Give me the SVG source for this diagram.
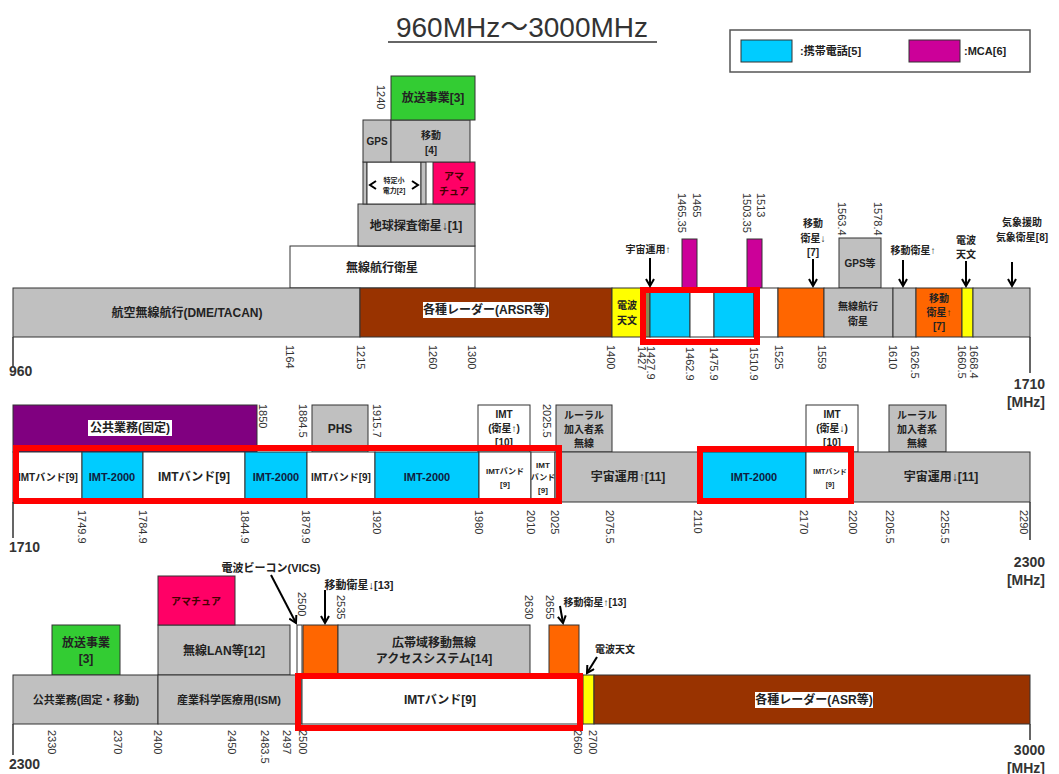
<svg xmlns="http://www.w3.org/2000/svg" width="1059" height="774" viewBox="0 0 1059 774">
<defs>
<style>
.s{stroke:#333;stroke-width:1}
.g{fill:#C0C0C0}.br{fill:#993300}.y{fill:#FFFF00}.c{fill:#00CCFF}.m{fill:#CC0099}.o{fill:#FF6600}.gr{fill:#33CC33}.p{fill:#FF0066}.pu{fill:#800080}.w{fill:#FFFFFF}.ol{fill:#8A8A50}
.rb{fill:none;stroke:#FF0000;stroke-width:6}
text{font-family:"Liberation Sans","Noto Sans CJK JP",sans-serif;fill:#222}
.t{font-size:12px;font-weight:bold;text-anchor:middle;dominant-baseline:central}
.t10{font-size:10px}
.t8{font-size:8px}
.t7{font-size:7px}
.n{font-size:11px;dominant-baseline:central;fill:#333}
.e{font-size:14px;font-weight:bold;fill:#333}
.tk{stroke:#333;stroke-width:1.5;fill:none}
.ar{stroke:#000;stroke-width:2;fill:none;marker-end:url(#ah)}
.dk{fill:#102040}
</style>
<marker id="ah" viewBox="0 0 10 10" refX="8" refY="5" markerWidth="5" markerHeight="5" orient="auto"><path d="M1,1 L8,5 L1,9" fill="none" stroke="#000" stroke-width="2"/></marker>
</defs>
<rect width="1059" height="774" fill="#fff"/>

<g id="title">
<text x="522" y="37" text-anchor="middle" style="font-size:28px;fill:#333">960MHz～3000MHz</text>
<line x1="388" y1="42" x2="657" y2="42" stroke="#333" stroke-width="1.5"/>
</g>

<g id="legend">
<rect x="730" y="30" width="300" height="42" fill="#fff" stroke="#555" stroke-width="1.5"/>
<rect x="741" y="40" width="51" height="22" class="c s"/>
<text x="800" y="51" class="t" style="text-anchor:start;font-size:11px">:携帯電話[5]</text>
<rect x="909" y="40" width="51" height="22" class="m s"/>
<text x="964" y="51" class="t" style="text-anchor:start;font-size:11px">:MCA[6]</text>
</g>

<!-- Row 1 -->
<g id="r1-upper">
<g id="n-rnss-sat"><rect x="290" y="246" width="185" height="42" class="w s"/><text x="382" y="268" class="t">無線航行衛星</text></g>
<g id="n-eess"><rect x="358" y="204" width="117" height="42" class="g s"/><text x="416" y="226" class="t">地球探査衛星↓[1]</text></g>
<g id="n-srd"><rect x="363" y="162" width="4" height="42" class="g s"/><rect x="367" y="162" width="54" height="42" class="w s"/><rect x="421" y="162" width="5" height="42" class="g s"/>
<text x="394" y="180" class="t t7">特定小</text><text x="394" y="190" class="t t7">電力[2]</text>
<path d="M376,181 L370,185 L376,189 M412,181 L418,185 L412,189" fill="none" stroke="#000" stroke-width="2"/></g>
<g id="n-ham1"><rect x="433" y="162" width="42" height="42" class="p s"/><text x="454" y="176" class="t t10" style="fill:#400">アマ</text><text x="454" y="191" class="t t10" style="fill:#400">チュア</text></g>
<g id="n-gps"><rect x="363" y="120" width="28" height="42" class="g s"/><text x="377" y="141" class="t t10">GPS</text></g>
<g id="n-mob4"><rect x="391" y="120" width="79" height="42" class="g s"/><text x="431" y="135" class="t t10">移動</text><text x="431" y="150" class="t t10">[4]</text></g>
<g id="n-bc3"><rect x="391" y="76" width="84" height="44" class="gr s"/><text x="433" y="98" class="t">放送事業[3]</text></g>
<g id="n-mca1"><rect x="682" y="239" width="15" height="49" class="m s"/></g>
<g id="n-mca2"><rect x="747" y="239" width="15" height="49" class="m s"/></g>
<g id="n-gps2"><rect x="839" y="238" width="42" height="50" class="g s"/><text x="860" y="263" class="t t10">GPS等</text></g>
<g id="l-space-up"><text x="648" y="249" class="t t10">宇宙運用↑</text></g>
<g id="l-mss7d"><text x="813" y="223" class="t t10">移動</text><text x="813" y="238" class="t t10">衛星↓</text><text x="813" y="252" class="t t10">[7]</text></g>
<g id="l-mssu"><text x="913" y="250" class="t t10">移動衛星↑</text></g>
<g id="l-ra"><text x="966" y="240" class="t t10">電波</text><text x="966" y="254" class="t t10">天文</text></g>
<g id="l-met"><text x="1022" y="222" class="t t10">気象援助</text><text x="1022" y="237" class="t t10">気象衛星[8]</text></g>
</g>

<g id="r1-bar">
<g id="n-dme"><rect x="13" y="288" width="347" height="49" class="g s"/><text x="187" y="313" class="t">航空無線航行(DME/TACAN)</text></g>
<g id="n-arsr"><rect x="360" y="288" width="252" height="49" class="br s"/><rect x="423" y="302" width="126" height="16" fill="#fff"/><text x="486" y="310" class="t">各種レーダー(ARSR等)</text></g>
<g id="n-ra1"><rect x="612" y="288" width="29" height="49" class="y s"/><text x="627" y="305" class="t t10">電波</text><text x="627" y="320" class="t t10">天文</text></g>
<g id="n-ol"><rect x="641" y="288" width="9" height="49" class="ol s"/></g>
<g id="n-cell1"><rect x="650" y="288" width="40" height="49" class="c s"/></g>
<g id="n-w1"><rect x="690" y="288" width="24" height="49" class="w s"/></g>
<g id="n-cell2"><rect x="714" y="288" width="40" height="49" class="c s"/></g>
<g id="n-w2"><rect x="754" y="288" width="24" height="49" class="w s"/></g>
<g id="n-mss7d"><rect x="778" y="288" width="46" height="49" class="o s"/></g>
<g id="n-rnss"><rect x="824" y="288" width="69" height="49" class="g s"/><text x="858" y="306" class="t t10">無線航行</text><text x="858" y="321" class="t t10">衛星</text></g>
<g id="n-g2"><rect x="893" y="288" width="23" height="49" class="g s"/></g>
<g id="n-mss7u"><rect x="916" y="288" width="46" height="49" class="o s"/><text x="939" y="298" class="t t10">移動</text><text x="939" y="312" class="t t10">衛星↑</text><text x="939" y="326" class="t t10">[7]</text></g>
<g id="n-ra2"><rect x="962" y="288" width="11" height="49" class="y s"/></g>
<g id="n-metbar"><rect x="973" y="288" width="57" height="49" class="g s"/></g>
</g>

<!-- Row 2 -->
<g id="r2-upper">
<g id="n-pub"><rect x="13" y="405" width="244" height="47" class="pu s"/><rect x="88" y="420" width="84" height="16" fill="#fff"/><text x="130" y="428" class="t">公共業務(固定)</text></g>
<g id="n-phs"><rect x="312" y="405" width="56" height="47" class="g s"/><text x="340" y="429" class="t">PHS</text></g>
<g id="n-imtsu"><rect x="478" y="405" width="52" height="47" class="w s"/><text x="504" y="414" class="t t10">IMT</text><text x="504" y="428" class="t t10">(衛星↑)</text><text x="504" y="442" class="t t10">[10]</text></g>
<g id="n-rural1"><rect x="556" y="405" width="56" height="47" class="g s"/><text x="584" y="415" class="t t10">ルーラル</text><text x="584" y="429" class="t t10">加入者系</text><text x="584" y="443" class="t t10">無線</text></g>
<g id="n-imtsd"><rect x="806" y="405" width="52" height="47" class="w s"/><text x="832" y="414" class="t t10">IMT</text><text x="832" y="428" class="t t10">(衛星↓)</text><text x="832" y="442" class="t t10">[10]</text></g>
<g id="n-rural2"><rect x="889" y="405" width="57" height="47" class="g s"/><text x="917" y="415" class="t t10">ルーラル</text><text x="917" y="429" class="t t10">加入者系</text><text x="917" y="443" class="t t10">無線</text></g>
</g>

<g id="r2-bar">
<g id="n-imtb1"><rect x="13" y="452" width="69" height="50" class="w s"/><text x="48" y="477" class="t t10">IMTバンド[9]</text></g>
<g id="n-imt1"><rect x="82" y="452" width="61" height="50" class="c s"/><text x="112" y="477" class="t dk" style="font-size:11px">IMT-2000</text></g>
<g id="n-imtb2"><rect x="143" y="452" width="102" height="50" class="w s"/><text x="194" y="477" class="t">IMTバンド[9]</text></g>
<g id="n-imt2"><rect x="245" y="452" width="62" height="50" class="c s"/><text x="276" y="477" class="t dk" style="font-size:11px">IMT-2000</text></g>
<g id="n-imtb3"><rect x="307" y="452" width="68" height="50" class="w s"/><text x="341" y="477" class="t t10">IMTバンド[9]</text></g>
<g id="n-imt3"><rect x="375" y="452" width="104" height="50" class="c s"/><text x="427" y="477" class="t dk" style="font-size:11px">IMT-2000</text></g>
<g id="n-imtb4"><rect x="479" y="452" width="52" height="50" class="w s"/><text x="505" y="471" class="t t8">IMTバンド</text><text x="505" y="484" class="t t8">[9]</text></g>
<g id="n-imtb5"><rect x="531" y="452" width="24" height="50" class="w s"/><text x="543" y="465" class="t t8">IMT</text><text x="543" y="477" class="t t8">バンド</text><text x="543" y="490" class="t t8">[9]</text></g>
<g id="n-spu"><rect x="555" y="452" width="147" height="50" class="g s"/><text x="628" y="477" class="t">宇宙運用↑[11]</text></g>
<g id="n-imt4"><rect x="702" y="452" width="104" height="50" class="c s"/><text x="754" y="477" class="t dk" style="font-size:11px">IMT-2000</text></g>
<g id="n-imtb6"><rect x="806" y="452" width="47" height="50" class="w s"/><text x="830" y="471" class="t t7">IMTバンド</text><text x="830" y="484" class="t t7">[9]</text></g>
<g id="n-spd"><rect x="853" y="452" width="177" height="50" class="g s"/><text x="941" y="477" class="t">宇宙運用↓[11]</text></g>
</g>

<!-- Row 3 -->
<g id="r3-upper">
<g id="n-bc3b"><rect x="52" y="625" width="68" height="50" class="gr s"/><text x="86" y="643" class="t">放送事業</text><text x="86" y="659" class="t">[3]</text></g>
<g id="n-wlan"><rect x="158" y="625" width="132" height="50" class="g s"/><text x="224" y="651" class="t">無線LAN等[12]</text></g>
<g id="n-ham2"><rect x="158" y="576" width="77" height="49" class="p s"/><text x="196" y="601" class="t t10" style="fill:#400">アマチュア</text></g>
<g id="n-vics"><rect x="297" y="625" width="5" height="50" class="w s"/></g>
<g id="n-mss13d"><rect x="303" y="625" width="35" height="50" class="o s"/></g>
<g id="n-bwa"><rect x="338" y="625" width="192" height="50" class="g s"/><text x="434" y="643" class="t">広帯域移動無線</text><text x="434" y="659" class="t">アクセスシステム[14]</text></g>
<g id="n-mss13u"><rect x="549" y="625" width="30" height="50" class="o s"/></g>
<g id="l-vics"><text x="271" y="568" class="t" style="font-size:11px">電波ビーコン(VICS)</text></g>
<g id="l-mss13d"><text x="359" y="585" class="t" style="font-size:11px">移動衛星↓[13]</text></g>
<g id="l-mss13u"><text x="595" y="602" class="t t10">移動衛星↑[13]</text></g>
<g id="l-ra3"><text x="615" y="649" class="t t10">電波天文</text></g>
</g>

<g id="r3-bar">
<g id="n-pub2"><rect x="13" y="675" width="145" height="49" class="g s"/><text x="86" y="700" class="t" style="font-size:11px">公共業務(固定・移動)</text></g>
<g id="n-ism"><rect x="158" y="675" width="141" height="49" class="g s"/><text x="229" y="700" class="t" style="font-size:11px">産業科学医療用(ISM)</text></g>
<g id="n-ism2"><rect x="299" y="675" width="3" height="49" class="g s"/></g>
<g id="n-imtb7"><rect x="302" y="675" width="281" height="49" class="w s"/><text x="440" y="700" class="t">IMTバンド[9]</text></g>
<g id="n-ra4"><rect x="583" y="675" width="11" height="49" class="y s"/></g>
<g id="n-asr"><rect x="594" y="675" width="436" height="49" class="br s"/><rect x="755" y="692" width="118" height="16" fill="#fff"/><text x="814" y="700" class="t">各種レーダー(ASR等)</text></g>
</g>

<g id="highlights">
<rect x="643" y="290" width="114" height="52" class="rb"/>
<rect x="16" y="448" width="543" height="53" class="rb"/>
<rect x="700" y="449" width="151" height="52" class="rb"/>
<rect x="298" y="676" width="282" height="52" class="rb"/>
</g>

<g id="connectors">
<line x1="650" y1="258" x2="650" y2="286" class="ar"/>
<line x1="813" y1="259" x2="813" y2="286" class="ar"/>
<line x1="903" y1="260" x2="903" y2="286" class="ar"/>
<line x1="966" y1="261" x2="966" y2="286" class="ar"/>
<line x1="1012" y1="262" x2="1012" y2="286" class="ar"/>
<line x1="271" y1="575" x2="296" y2="623" class="ar"/>
<line x1="325" y1="590" x2="325" y2="623" class="ar"/>
<line x1="560" y1="606" x2="563" y2="623" class="ar"/>
<line x1="597" y1="657" x2="587" y2="673" class="ar"/>
</g>

<g id="axes">
<path class="tk" d="M13,337 V366 M1030,337 V373 M13,502 V538 M1030,502 V540 M13,724 V755 M1030,724 V740"/>
<text x="9" y="376" class="e">960</text>
<text x="1045" y="389" class="e" text-anchor="end">1710</text>
<text x="1045" y="407" class="e" text-anchor="end">[MHz]</text>
<text x="9" y="552" class="e">1710</text>
<text x="1045" y="567" class="e" text-anchor="end">2300</text>
<text x="1045" y="585" class="e" text-anchor="end">[MHz]</text>
<text x="9" y="769" class="e">2300</text>
<text x="1045" y="755" class="e" text-anchor="end">3000</text>
<text x="1045" y="773" class="e" text-anchor="end">[MHz]</text>
</g>

<g id="freq-labels">
<text class="n" transform="translate(290,345) rotate(90)">1164</text>
<text class="n" transform="translate(361,345) rotate(90)">1215</text>
<text class="n" transform="translate(433,345) rotate(90)">1260</text>
<text class="n" transform="translate(472,345) rotate(90)">1300</text>
<text class="n" transform="translate(611,345) rotate(90)">1400</text>
<text class="n" transform="translate(642,346) rotate(90)">1427</text>
<text class="n" transform="translate(651,346) rotate(90)">1427.9</text>
<text class="n" transform="translate(690,347) rotate(90)">1462.9</text>
<text class="n" transform="translate(714,347) rotate(90)">1475.9</text>
<text class="n" transform="translate(754,347) rotate(90)">1510.9</text>
<text class="n" transform="translate(779,345) rotate(90)">1525</text>
<text class="n" transform="translate(822,345) rotate(90)">1559</text>
<text class="n" transform="translate(893,345) rotate(90)">1610</text>
<text class="n" transform="translate(915,345) rotate(90)">1626.5</text>
<text class="n" transform="translate(962,345) rotate(90)">1660.5</text>
<text class="n" transform="translate(974,345) rotate(90)">1668.4</text>
<text class="n" transform="translate(381,85) rotate(90)">1240</text>
<text class="n" transform="translate(682,193) rotate(90)">1465.35</text>
<text class="n" transform="translate(697,193) rotate(90)">1465</text>
<text class="n" transform="translate(747,193) rotate(90)">1503.35</text>
<text class="n" transform="translate(761,193) rotate(90)">1513</text>
<text class="n" transform="translate(842,202) rotate(90)">1563.4</text>
<text class="n" transform="translate(878,202) rotate(90)">1578.4</text>
<text class="n" transform="translate(263,404) rotate(90)">1850</text>
<text class="n" transform="translate(303,404) rotate(90)">1884.5</text>
<text class="n" transform="translate(377,404) rotate(90)">1915.7</text>
<text class="n" transform="translate(547,404) rotate(90)">2025.5</text>
<text class="n" transform="translate(82,510) rotate(90)">1749.9</text>
<text class="n" transform="translate(143,510) rotate(90)">1784.9</text>
<text class="n" transform="translate(245,510) rotate(90)">1844.9</text>
<text class="n" transform="translate(306,510) rotate(90)">1879.9</text>
<text class="n" transform="translate(377,510) rotate(90)">1920</text>
<text class="n" transform="translate(479,510) rotate(90)">1980</text>
<text class="n" transform="translate(531,510) rotate(90)">2010</text>
<text class="n" transform="translate(555,510) rotate(90)">2025</text>
<text class="n" transform="translate(610,510) rotate(90)">2075.5</text>
<text class="n" transform="translate(698,510) rotate(90)">2110</text>
<text class="n" transform="translate(804,510) rotate(90)">2170</text>
<text class="n" transform="translate(853,510) rotate(90)">2200</text>
<text class="n" transform="translate(890,510) rotate(90)">2205.5</text>
<text class="n" transform="translate(945,510) rotate(90)">2255.5</text>
<text class="n" transform="translate(1024,510) rotate(90)">2290</text>
<text class="n" transform="translate(302,592) rotate(90)">2500</text>
<text class="n" transform="translate(341,595) rotate(90)">2535</text>
<text class="n" transform="translate(529,595) rotate(90)">2630</text>
<text class="n" transform="translate(550,595) rotate(90)">2655</text>
<text class="n" transform="translate(52,730) rotate(90)">2330</text>
<text class="n" transform="translate(118,730) rotate(90)">2370</text>
<text class="n" transform="translate(158,730) rotate(90)">2400</text>
<text class="n" transform="translate(232,730) rotate(90)">2450</text>
<text class="n" transform="translate(265,730) rotate(90)">2483.5</text>
<text class="n" transform="translate(287,730) rotate(90)">2497</text>
<text class="n" transform="translate(303,730) rotate(90)">2500</text>
<text class="n" transform="translate(578,730) rotate(90)">2660</text>
<text class="n" transform="translate(593,730) rotate(90)">2700</text>
</g>
</svg>
